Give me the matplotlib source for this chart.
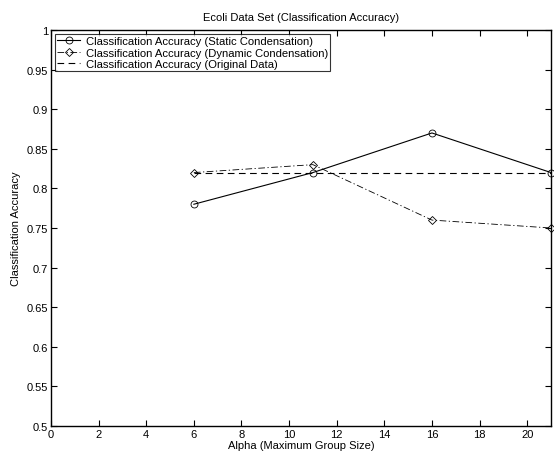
import matplotlib
matplotlib.use("Agg")
import matplotlib.pyplot as plt
import numpy as np

plt.rcParams['font.family'] = ['Liberation Sans', 'DejaVu Sans']

alpha = [6, 11, 16, 21]
static_acc = [0.78, 0.82, 0.87, 0.82]
dynamic_acc = [0.82, 0.83, 0.76, 0.75]
original_acc = [0.82, 0.82, 0.82, 0.82]

x_ticks = list(range(0, 21, 2))
y_ticks = [0.5, 0.55, 0.6, 0.65, 0.7, 0.75, 0.8, 0.85, 0.9, 0.95, 1.0]
y_labels = ['0.5', '0.55', '0.6', '0.65', '0.7', '0.75', '0.8', '0.85', '0.9', '0.95', '1']

fig = plt.figure(figsize=(5.54, 4.56), dpi=100)
ax = fig.add_axes([51 / 554, 29 / 456, 500 / 554, 396 / 456])

ax.plot(alpha, static_acc, '-', color='black', lw=0.8, marker='o', ms=5,
        mfc='none', mew=0.6, clip_on=False,
        label='Classification Accuracy (Static Condensation)')
ax.plot(alpha, dynamic_acc, color='black', lw=0.6, dashes=(8, 3, 1.5, 3),
        marker='D', ms=4.2, mfc='none', mew=0.6, clip_on=False,
        label='Classification Accuracy (Dynamic Condensation)')
ax.plot(alpha, original_acc, color='black', lw=0.8, dashes=(6, 4),
        label='Classification Accuracy (Original Data)')

ax.set_xlim(0, 21)
ax.set_ylim(0.5, 1.0)
ax.set_xticks(x_ticks)
ax.set_yticks(y_ticks)
ax.set_yticklabels(y_labels)
ax.tick_params(direction='in', top=True, right=True, labelsize=8, length=4, width=0.8, pad=2)
for s in ax.spines.values():
    s.set_linewidth(1.0)

ax.set_title('Ecoli Data Set (Classification Accuracy)', fontsize=8, pad=7)
ax.set_xlabel('Alpha (Maximum Group Size)', fontsize=8, labelpad=1)
ax.set_ylabel('Classification Accuracy', fontsize=8, labelpad=4)

leg = ax.legend(loc='upper left', fontsize=8.15, frameon=True, fancybox=False,
                edgecolor='black', handlelength=2.0, borderpad=0.2,
                labelspacing=0.12, handletextpad=0.5, borderaxespad=0.35)
leg.get_frame().set_linewidth(0.8)

fig.savefig('out.png', dpi=100)
